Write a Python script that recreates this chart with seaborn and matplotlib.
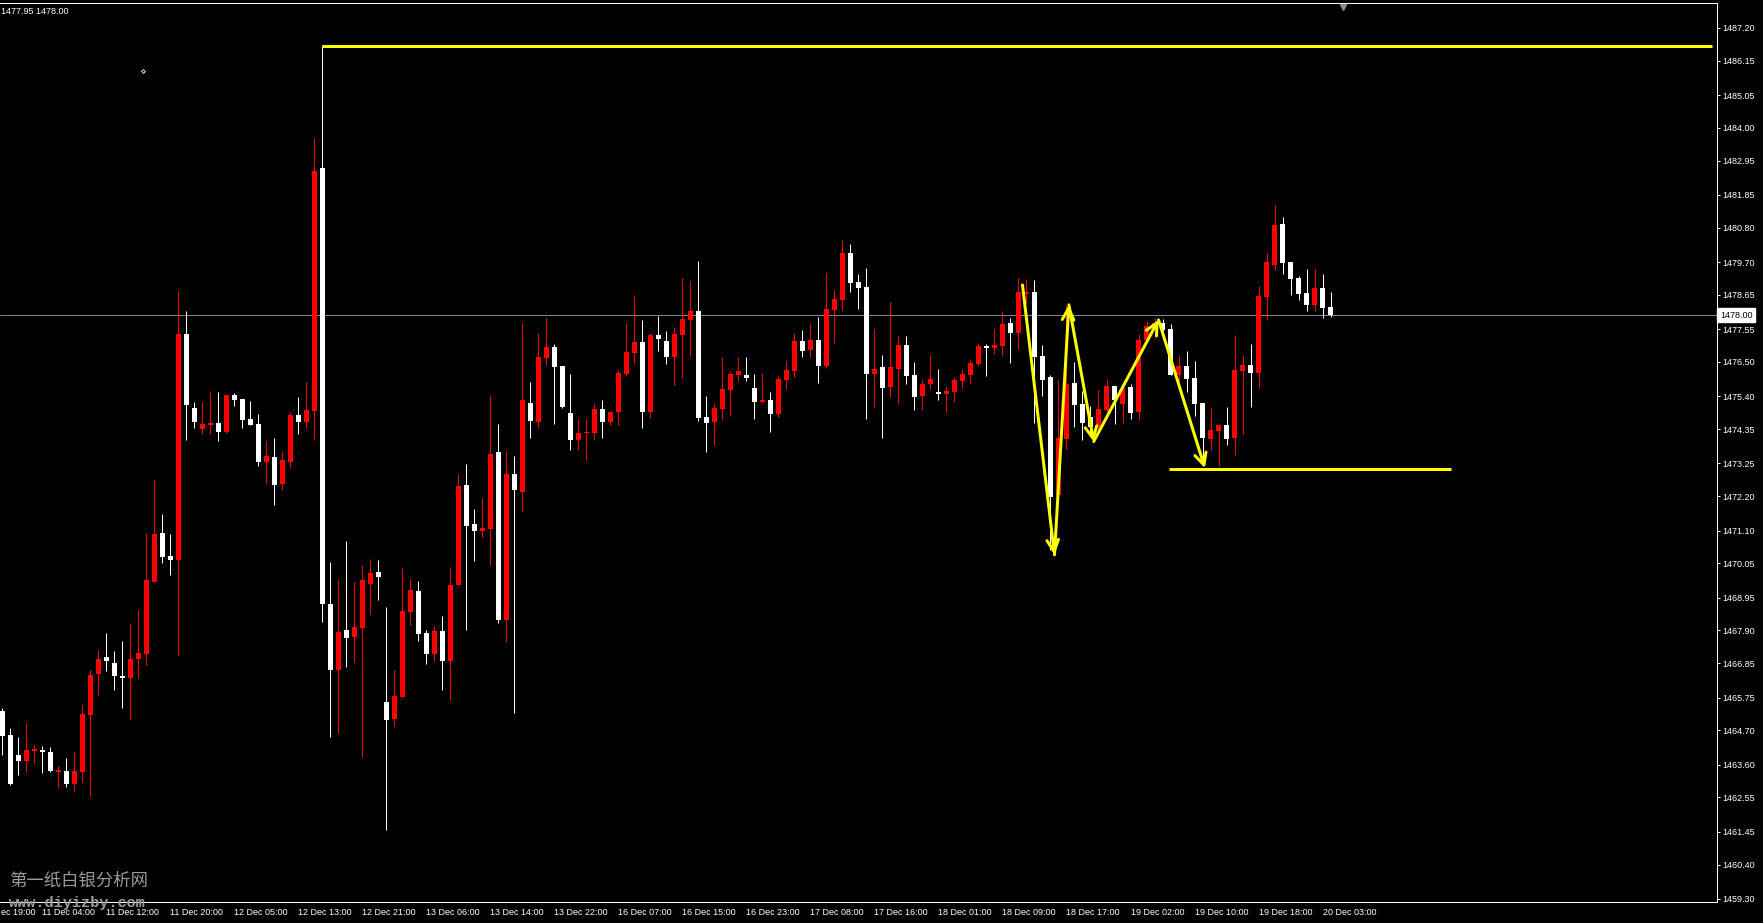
import numpy as np
import seaborn as sns
import matplotlib.pyplot as plt
import matplotlib.transforms as mtransforms

# H1 candles (oldest first)
opens = [1465.32, 1464.55, 1463.91, 1463.72, 1464.05, 1464.07, 1464.00, 1463.36, 1463.40, 1462.98,
         1463.36, 1465.19, 1466.51, 1467.05, 1466.86, 1466.44, 1466.38, 1466.98, 1467.15, 1469.45,
         1471.02, 1470.29, 1470.16, 1477.40, 1475.03, 1474.36, 1474.49, 1474.55, 1474.26, 1475.45,
         1475.32, 1474.68, 1474.52, 1473.28, 1473.46, 1472.60, 1473.31, 1474.81, 1474.58, 1474.93,
         1482.72, 1468.74, 1466.62, 1467.90, 1467.68, 1467.99, 1469.40, 1469.78, 1465.61, 1465.05,
         1465.78, 1468.50, 1469.17, 1467.82, 1467.16, 1467.88, 1466.93, 1469.34, 1472.56, 1471.31,
         1471.10, 1471.15, 1473.62, 1468.24, 1472.91, 1472.32, 1475.19, 1474.59, 1476.64, 1476.98,
         1476.38, 1474.87, 1474.00, 1474.21, 1474.23, 1475.00, 1474.58, 1474.90, 1476.12, 1476.79,
         1477.14, 1474.90, 1477.37, 1477.17, 1476.66, 1477.37, 1477.85, 1478.14, 1474.74, 1474.58,
         1475.00, 1475.60, 1476.09, 1476.09, 1475.67, 1475.22, 1475.28, 1474.83, 1475.92, 1476.21,
         1477.17, 1476.88, 1477.21, 1476.37, 1478.17, 1478.49, 1479.99, 1479.06, 1478.90, 1476.12,
         1476.34, 1475.70, 1476.28, 1477.05, 1476.08, 1475.41, 1475.80, 1475.54, 1475.48, 1475.54,
         1475.89, 1476.09, 1476.44, 1477.01, 1476.95, 1477.01, 1477.75, 1477.43, 1478.68, 1478.75,
         1476.69, 1476.02, 1472.24, 1474.04, 1475.83, 1475.16, 1474.75, 1474.42, 1474.96, 1475.73,
         1475.16, 1475.70, 1474.90, 1477.20, 1477.58, 1477.75, 1477.56, 1476.08, 1476.37, 1475.99,
         1475.19, 1474.03, 1474.29, 1474.48, 1474.06, 1476.21, 1476.40, 1476.15, 1478.58, 1479.61,
         1480.92, 1479.70, 1479.19, 1478.71, 1478.33, 1478.87, 1478.26]
highs = [1465.40, 1464.77, 1464.49, 1464.94, 1464.23, 1464.20, 1464.17, 1463.56, 1463.82, 1464.00,
         1465.51, 1466.64, 1467.28, 1467.82, 1467.25, 1467.57, 1468.14, 1468.56, 1471.02, 1472.72,
         1471.63, 1470.99, 1478.78, 1478.14, 1475.22, 1475.22, 1475.58, 1475.54, 1475.45, 1475.51,
         1475.32, 1475.26, 1474.84, 1473.97, 1474.07, 1473.63, 1474.90, 1475.38, 1475.86, 1483.67,
         1486.62, 1470.10, 1469.52, 1470.77, 1469.46, 1469.99, 1470.20, 1470.16, 1468.65, 1466.63,
         1469.90, 1469.54, 1469.49, 1467.92, 1468.04, 1468.37, 1469.93, 1472.92, 1473.24, 1471.79,
         1472.15, 1475.41, 1474.52, 1473.65, 1473.49, 1477.75, 1475.86, 1477.43, 1477.91, 1477.09,
         1476.38, 1476.12, 1474.68, 1474.68, 1475.16, 1475.28, 1474.93, 1476.25, 1477.75, 1478.65,
         1477.85, 1477.43, 1477.98, 1477.50, 1477.62, 1479.19, 1479.10, 1479.74, 1475.41, 1475.16,
         1476.66, 1476.21, 1476.66, 1476.66, 1476.12, 1476.15, 1475.54, 1476.05, 1476.53, 1477.43,
         1477.53, 1477.72, 1477.94, 1479.35, 1478.81, 1480.41, 1480.28, 1479.32, 1479.51, 1477.56,
         1476.73, 1478.42, 1477.33, 1477.33, 1476.50, 1475.92, 1476.73, 1476.28, 1475.70, 1476.02,
         1476.28, 1476.57, 1477.11, 1477.08, 1477.56, 1478.14, 1477.91, 1479.19, 1479.16, 1479.13,
         1477.05, 1476.09, 1475.93, 1478.33, 1476.50, 1475.57, 1475.09, 1475.60, 1475.96, 1475.73,
         1475.80, 1475.80, 1477.40, 1477.81, 1477.90, 1477.88, 1477.72, 1476.69, 1476.85, 1476.53,
         1475.19, 1475.06, 1474.48, 1475.06, 1477.36, 1476.72, 1477.08, 1478.93, 1479.99, 1481.53,
         1481.14, 1479.70, 1479.25, 1479.48, 1479.48, 1479.32, 1478.74]
lows = [1463.91, 1462.95, 1463.27, 1463.36, 1463.65, 1463.33, 1463.36, 1462.87, 1462.90, 1462.76,
        1463.04, 1462.60, 1465.83, 1466.61, 1465.99, 1465.42, 1465.06, 1466.38, 1466.79, 1469.45,
        1470.06, 1469.67, 1467.12, 1474.00, 1474.39, 1474.18, 1474.18, 1473.97, 1474.23, 1475.09,
        1474.39, 1474.49, 1473.17, 1472.62, 1471.93, 1472.41, 1473.15, 1474.18, 1474.39, 1474.00,
        1468.17, 1464.50, 1464.60, 1466.72, 1466.90, 1463.84, 1468.42, 1468.87, 1461.50, 1464.85,
        1465.78, 1468.08, 1467.57, 1466.84, 1466.93, 1466.00, 1465.68, 1469.34, 1467.90, 1470.14,
        1470.88, 1470.01, 1468.15, 1467.54, 1465.27, 1471.71, 1474.05, 1474.43, 1476.39, 1474.50,
        1475.04, 1473.69, 1473.68, 1473.36, 1474.00, 1474.07, 1474.48, 1474.48, 1476.05, 1476.47,
        1474.39, 1474.71, 1476.85, 1476.44, 1475.76, 1475.99, 1476.69, 1474.61, 1473.62, 1473.84,
        1474.68, 1474.77, 1475.89, 1475.89, 1474.68, 1475.19, 1474.26, 1474.74, 1475.64, 1476.02,
        1476.66, 1476.66, 1475.83, 1476.31, 1477.11, 1478.17, 1478.74, 1478.20, 1474.67, 1475.06,
        1474.07, 1475.38, 1475.19, 1475.80, 1474.96, 1474.96, 1475.64, 1475.28, 1474.90, 1475.22,
        1475.67, 1475.83, 1476.37, 1476.05, 1476.76, 1476.73, 1476.47, 1476.92, 1478.38, 1474.55,
        1475.41, 1470.48, 1472.08, 1473.71, 1474.42, 1474.00, 1474.22, 1474.22, 1474.80, 1474.52,
        1474.55, 1474.68, 1474.64, 1477.15, 1477.26, 1477.37, 1476.08, 1475.87, 1475.54, 1474.77,
        1473.30, 1473.68, 1473.17, 1473.84, 1473.52, 1474.19, 1475.06, 1475.70, 1477.85, 1479.45,
        1479.32, 1478.65, 1478.49, 1478.13, 1478.13, 1477.91, 1477.95]
closes = [1464.53, 1462.98, 1463.72, 1464.07, 1464.10, 1463.99, 1463.40, 1463.43, 1462.98, 1463.40,
          1465.23, 1466.47, 1466.98, 1466.93, 1466.44, 1466.38, 1466.98, 1467.18, 1469.52, 1470.99,
          1470.26, 1470.16, 1477.40, 1475.12, 1474.58, 1474.52, 1474.55, 1474.26, 1475.45, 1475.29,
          1474.65, 1474.49, 1473.28, 1473.49, 1472.57, 1473.36, 1474.81, 1474.58, 1474.97, 1482.61,
          1468.74, 1466.62, 1467.84, 1467.65, 1468.01, 1469.52, 1469.75, 1469.61, 1465.02, 1465.80,
          1468.53, 1469.20, 1467.80, 1467.16, 1467.88, 1466.93, 1469.36, 1472.53, 1471.26, 1471.10,
          1471.18, 1473.56, 1468.24, 1472.91, 1472.41, 1475.29, 1474.62, 1476.66, 1476.98, 1476.35,
          1475.07, 1474.01, 1474.23, 1474.26, 1475.00, 1474.58, 1474.90, 1476.15, 1476.82, 1477.14,
          1474.90, 1477.37, 1477.24, 1476.66, 1477.40, 1477.88, 1478.14, 1474.71, 1474.55, 1475.03,
          1475.64, 1476.12, 1476.21, 1475.99, 1475.22, 1475.28, 1474.83, 1475.96, 1476.24, 1477.17,
          1476.85, 1477.21, 1476.37, 1478.20, 1478.52, 1479.99, 1479.03, 1478.87, 1476.12, 1476.28,
          1475.67, 1476.34, 1477.05, 1476.05, 1475.38, 1475.80, 1475.96, 1475.48, 1475.57, 1475.92,
          1476.12, 1476.47, 1477.01, 1476.95, 1477.05, 1477.72, 1477.43, 1478.75, 1478.75, 1476.66,
          1475.92, 1472.19, 1474.07, 1475.80, 1475.12, 1474.55, 1474.43, 1475.00, 1475.73, 1475.28,
          1475.67, 1474.87, 1477.21, 1477.65, 1477.74, 1477.52, 1476.08, 1476.37, 1475.95, 1475.15,
          1474.06, 1474.32, 1474.48, 1474.03, 1476.24, 1476.40, 1476.15, 1478.61, 1479.70, 1480.89,
          1479.67, 1479.16, 1478.68, 1478.33, 1478.87, 1478.23, 1478.00]

# first label is only partly on screen ("10 Dec 19:00" -> "ec 19:00")
time_labels = ["ec 19:00", "11 Dec 04:00", "11 Dec 12:00", "11 Dec 20:00", "12 Dec 05:00",
               "12 Dec 13:00", "12 Dec 21:00", "13 Dec 06:00", "13 Dec 14:00", "13 Dec 22:00",
               "16 Dec 07:00", "16 Dec 15:00", "16 Dec 23:00", "17 Dec 08:00", "17 Dec 16:00",
               "18 Dec 01:00", "18 Dec 09:00", "18 Dec 17:00", "19 Dec 02:00", "19 Dec 10:00",
               "19 Dec 18:00", "20 Dec 03:00"]
first_label_bar = -3

price_ticks = [1487.20, 1486.15, 1485.05, 1484.00, 1482.95, 1481.85, 1480.80, 1479.70, 1478.65,
               1477.55, 1476.50, 1475.40, 1474.35, 1473.25, 1472.20, 1471.10, 1470.05, 1468.95,
               1467.90, 1466.85, 1465.75, 1464.70, 1463.60, 1462.55, 1461.45, 1460.40, 1459.30]

bid = 1478.00
last_low = 1477.95

# hand-drawn objects on the chart
resistance = (1486.62, 40, 213.7)      # price, from bar, to bar
support = (1473.07, 145.8, 181.0)
zigzag_bars = [127.5, 131.5, 133.3, 136.4, 144.5, 150.3]
zigzag_prices = [1478.97, 1470.32, 1478.33, 1473.95, 1477.85, 1473.10]

W, H = 1763, 923
sns.set_theme(style="dark", rc={
    "axes.facecolor": "black", "figure.facecolor": "black",
    "axes.edgecolor": "white", "axes.grid": False,
    "xtick.color": "white", "ytick.color": "white",
    "text.color": "white",
})
plt.rcParams["font.family"] = ["Liberation Sans", "Noto Sans CJK SC", "DejaVu Sans"]

fig = plt.figure(figsize=(W / 100, H / 100), dpi=100)
ax = fig.add_axes([0, 21 / H, 1717 / W, 899 / H])

o = np.array(opens); h = np.array(highs); l = np.array(lows); c = np.array(closes)
bars = np.arange(len(o))
col = np.where(c >= o, "#FF0000", "#FFFFFF")
px = 0.72  # one pixel in points

ax.axhline(bid, color="#778899", lw=px, zorder=1)
ax.vlines(bars, l, h, colors=col, lw=px, zorder=2)
body = np.maximum(np.abs(c - o), 0.035)
ax.bar(bars, body, bottom=np.minimum(o, c), width=0.64, color=col, linewidth=0, zorder=3)

ax.hlines(resistance[0], resistance[1], resistance[2], color="#FFFF00", lw=3 * px, zorder=4)
ax.hlines(support[0], support[1], support[2], color="#FFFF00", lw=3 * px, zorder=4)
for i in range(len(zigzag_bars) - 1):
    ax.annotate("", xy=(zigzag_bars[i + 1], zigzag_prices[i + 1]),
                xytext=(zigzag_bars[i], zigzag_prices[i]),
                arrowprops=dict(arrowstyle="->,head_length=0.7,head_width=0.35",
                                color="#FFFF00", lw=3 * px, shrinkA=0, shrinkB=0,
                                mutation_scale=12), zorder=5)

ax.set_xlim(-0.29, 214.3)
ax.set_ylim(1459.20, 1488.00)

# price scale on the right
ax.yaxis.tick_right()
ax.set_yticks(price_ticks)
ax.set_yticklabels([f"{v:.2f}" for v in price_ticks])
ax.tick_params(axis="y", direction="out", length=3 * px, width=px, pad=2, labelsize=6.5,
               colors="white")
trans = mtransforms.blended_transform_factory(ax.transAxes, ax.transData)
ax.text(1.0017, bid, f"{bid:.2f}", transform=trans, ha="left", va="center", fontsize=6.5,
        color="black", bbox=dict(boxstyle="square,pad=0.28", fc="white", ec="white"), zorder=6,
        clip_on=False)

# time scale
label_bars = list(range(first_label_bar, first_label_bar + 8 * len(time_labels), 8))
vis = [b for b in label_bars if b >= 0]
ax.set_xticks(vis)
ax.set_xticklabels([t for b, t in zip(label_bars, time_labels) if b >= 0])
for lbl in ax.get_xticklabels():
    lbl.set_horizontalalignment("left")
ax.tick_params(axis="x", direction="out", length=3 * px, width=px, pad=2, labelsize=6.5,
               colors="white")
xtrans = mtransforms.blended_transform_factory(fig.transFigure, ax.transData)
for b, t in zip(label_bars, time_labels):
    if b < 0:
        ax.text(1 / W, 1459.20 - 0.33, t, transform=xtrans, ha="left", va="center",
                fontsize=6.5, color="white", clip_on=False)

for side in ["top", "right", "bottom"]:
    ax.spines[side].set_color("white")
    ax.spines[side].set_linewidth(px)
ax.spines["left"].set_visible(False)

# chart shift marker and small cursor mark
ax.plot([167.5], [1487.88], marker="v", ms=4, color="#8C8C8C", clip_on=False, zorder=6)
ax.plot([17.6], [1485.83], marker="D", ms=2, mfc="black", mec="white", mew=0.6, zorder=6)

fig.text(1 / W, 1 - 11 / H, f"{last_low:.2f} {bid:.2f}", fontsize=6.5, color="white",
         ha="left", va="center")

fig.text(9 / W, 1 - 881 / H, "第一纸白银分析网", fontsize=12.5, color="#9A9A9A",
         family=["Noto Sans CJK SC", "DejaVu Sans"], ha="left", va="center")
fig.text(9 / W, 1 - 903 / H, "www.diyizby.com", fontsize=11, color="#9A9A9A",
         family=["Liberation Mono", "DejaVu Sans Mono"], weight="bold", ha="left", va="center")

fig.savefig("out.png", dpi=100, facecolor="black")
